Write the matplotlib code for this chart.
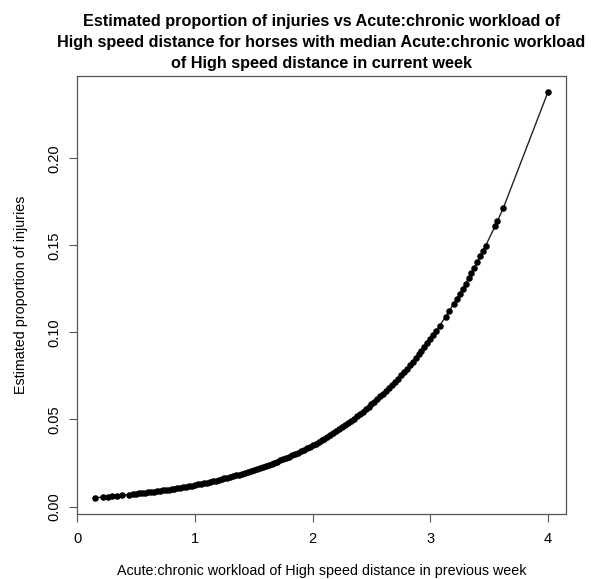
import matplotlib
matplotlib.use("Agg")
import matplotlib.pyplot as plt

# acute:chronic workload of high speed distance (previous week)
acwr_prev = [0.15, 0.22, 0.26, 0.29, 0.34, 0.38, 0.44, 0.47,
             0.500, 0.525, 0.550, 0.575, 0.600, 0.625, 0.650, 0.675, 0.700, 0.725,
             0.750, 0.775, 0.800, 0.825, 0.850, 0.875, 0.900, 0.925, 0.950, 0.975,
             1.000, 1.025, 1.050, 1.075, 1.100, 1.125, 1.150, 1.175, 1.200, 1.225,
             1.250, 1.275, 1.300, 1.325, 1.350, 1.375, 1.400, 1.425, 1.450, 1.475,
             1.500, 1.525, 1.550, 1.575, 1.600, 1.625, 1.650, 1.675, 1.700, 1.725,
             1.750, 1.775, 1.800, 1.825, 1.850, 1.875, 1.900, 1.925, 1.950, 1.975,
             2.000, 2.025, 2.050, 2.075, 2.100, 2.125, 2.150, 2.175, 2.200, 2.225,
             2.250, 2.275, 2.300, 2.325, 2.350, 2.375, 2.400, 2.425, 2.450, 2.475,
             2.500, 2.525, 2.550, 2.575, 2.600, 2.625, 2.650, 2.675, 2.700, 2.725,
             2.750, 2.775, 2.800, 2.825, 2.850, 2.875, 2.900, 2.925, 2.950, 2.975,
             3.000, 3.025, 3.050, 3.08, 3.13, 3.16,
             3.200, 3.225, 3.250, 3.275, 3.300, 3.325, 3.350, 3.375, 3.400, 3.425,
             3.450, 3.47, 3.55, 3.57, 3.62, 4.00]

# estimated proportion of injuries
prop_inj = [0.00502, 0.00541, 0.00564, 0.00583, 0.00614, 0.00641, 0.00683, 0.00705,
            0.00728, 0.00748, 0.00768, 0.00789, 0.00810, 0.00832, 0.00854, 0.00877, 0.00900, 0.00925,
            0.00950, 0.00975, 0.01001, 0.01028, 0.01056, 0.01084, 0.01113, 0.01143, 0.01174, 0.01205,
            0.01237, 0.01271, 0.01305, 0.01340, 0.01375, 0.01412, 0.01449, 0.01488, 0.01527, 0.01568,
            0.01610, 0.01653, 0.01697, 0.01742, 0.01789, 0.01837, 0.01886, 0.01936, 0.01987, 0.02039,
            0.02093, 0.02149, 0.02207, 0.02266, 0.02326, 0.02387, 0.02449, 0.02514, 0.02580, 0.02648,
            0.02718, 0.02790, 0.02863, 0.02939, 0.03016, 0.03094, 0.03175, 0.03258, 0.03344, 0.03433,
            0.03524, 0.03615, 0.03709, 0.03806, 0.03905, 0.04006, 0.04110, 0.04217, 0.04327, 0.04439,
            0.04553, 0.04671, 0.04791, 0.04915, 0.05043, 0.05172, 0.05305, 0.05441, 0.05580, 0.05723,
            0.05869, 0.06017, 0.06169, 0.06327, 0.06489, 0.06653, 0.06821, 0.06992, 0.07168, 0.07350,
            0.07536, 0.07721, 0.07911, 0.08109, 0.08313, 0.08521, 0.08734, 0.08947, 0.09166, 0.09393,
            0.09625, 0.09860, 0.1010, 0.1039, 0.1090, 0.1122,
            0.1165, 0.1193, 0.1221, 0.1250, 0.1280, 0.1310, 0.1341, 0.1372, 0.1404, 0.1437,
            0.1470, 0.1497, 0.1609, 0.1638, 0.1713, 0.2380]

xticks = [0, 1, 2, 3, 4]
yticks = [0.00, 0.05, 0.10, 0.15, 0.20]

plt.rcParams['font.family'] = ['Liberation Sans', 'DejaVu Sans']

fig = plt.figure(figsize=(5.91, 5.79), dpi=100)
ax = fig.add_axes([77 / 591, 65 / 579, 489 / 591, 438 / 579])

ax.plot(acwr_prev, prop_inj, color='#222222', lw=1.0, marker='o',
        markersize=4.7, markerfacecolor='black', markeredgecolor='black',
        markeredgewidth=0)
ax.margins(x=0.04, y=0.04)

ax.set_xticks(xticks)
ax.set_xticklabels([str(t) for t in xticks])
ax.set_yticks(yticks)
ax.set_yticklabels(['%.2f' % t for t in yticks], rotation=90, va='center')
ax.tick_params(direction='out', length=6, width=0.8, color='#555555',
               labelsize=10.5, pad=7)
ax.tick_params(axis='y', pad=5)

for s in ax.spines.values():
    s.set_color('#555555')
    s.set_linewidth(0.9)

ax.set_xlabel('Acute:chronic workload of High speed distance in previous week',
              fontsize=10.3, labelpad=13)
ax.set_ylabel('Estimated proportion of injuries', fontsize=10.3, labelpad=14)
ax.set_title('Estimated proportion of injuries vs Acute:chronic workload of\n'
             'High speed distance for horses with median Acute:chronic workload\n'
             'of High speed distance in current week',
             fontsize=11.7, fontweight='bold', linespacing=1.48, pad=6)

fig.savefig('out.png', dpi=100)
